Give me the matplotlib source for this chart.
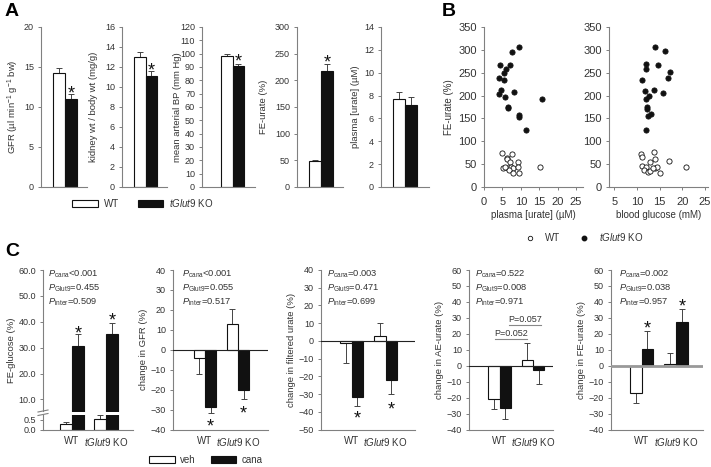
import matplotlib
matplotlib.use('Agg')
import matplotlib.pyplot as plt
from matplotlib.patches import Patch
from matplotlib.lines import Line2D

# ---- panel A: group means / SEM ----
gfr_mean = [14.3, 11.0]
gfr_err = [0.6, 0.6]
kidney_mean = [13.0, 11.1]
kidney_err = [0.5, 0.5]
map_mean = [98.0, 90.5]
map_err = [2.0, 2.0]
feurate_mean = [48.0, 218.0]
feurate_err = [3.0, 12.0]
purate_mean = [7.7, 7.2]
purate_err = [0.65, 0.7]
a_star = [12.3, 12.1, 97.5, 242.0, None]

# ---- panel B: individual mice ----
ko_urate = [9.4, 7.5, 4.4, 7.1, 6.0, 5.5, 4.0, 5.3, 4.7, 4.0, 8.2, 5.7, 15.7, 6.4, 6.4, 9.5, 9.5, 11.3]
ko_fe_u = [306, 296, 266, 267, 258, 250, 239, 234, 212, 204, 207, 197, 192, 175, 172, 158, 154, 125]
wt_urate = [4.8, 7.5, 6.2, 6.2, 7.1, 9.2, 5.1, 6.4, 7.3, 8.0, 9.2, 15.3, 6.9, 7.8, 9.4, 5.8]
wt_fe_u = [75, 73, 64, 61, 55, 55.5, 41.6, 41.6, 43, 41.6, 43, 43, 36.5, 31.4, 31.4, 43]
ko_glucose = [14.1, 16.2, 12.0, 14.7, 12.0, 17.4, 11.1, 16.8, 13.7, 11.7, 15.8, 12.6, 11.9, 12.3, 12.3, 13.1, 12.4, 11.9]
ko_fe_g = [306, 297, 268, 267, 259, 251, 235, 239, 213, 209, 206, 198, 193, 175, 171, 160, 155, 125]
wt_glucose = [11.0, 11.2, 13.75, 14.0, 12.9, 17.1, 11.2, 11.9, 14.1, 14.5, 20.9, 11.5, 12.4, 12.8, 15.1, 13.6]
wt_fe_g = [73, 65, 76, 62, 55, 56.5, 45.5, 43, 42, 43, 43, 37, 33, 36, 31.5, 41]

# ---- panel C: veh / cana ----
c_groups = ['WT', r'$\it{tGlut9}$ KO']
glu_veh = [0.28, 0.55]
glu_veh_err = [0.09, 0.2]
glu_cana = [30.6, 35.2]
glu_cana_err = [4.6, 4.5]
cgfr_veh = [-4.0, 13.0]
cgfr_veh_err = [8.3, 7.3]
cgfr_cana = [-28.7, -20.0]
cgfr_cana_err = [3.2, 4.9]
filt_veh = [-1.0, 2.6]
filt_veh_err = [11.6, 7.4]
filt_cana = [-31.5, -22.0]
filt_cana_err = [5.0, 8.0]
ae_veh = [-21.0, 3.3]
ae_veh_err = [6.2, 10.7]
ae_cana = [-26.5, -2.5]
ae_cana_err = [6.8, 9.0]
fe_veh = [-17.0, 1.0]
fe_veh_err = [6.3, 6.9]
fe_cana = [10.6, 27.7]
fe_cana_err = [11.0, 7.9]
glu_star = [37.3, 42.2]
cgfr_star = [-36.3, -29.5]
filt_star = [-41.0, -35.8]
fe_star = [26.0, 40.2]
p_glu = ['<0.001', '=0.455', '=0.509']
p_gfr = ['<0.001', '=0.055', '=0.517']
p_filt = ['=0.003', '=0.471', '=0.699']
p_ae = ['=0.522', '=0.008', '=0.971']
p_fe = ['=0.002', '=0.038', '=0.957']

TXT = '#333333'
SPINE = '#808080'
DARK = '#111111'
plt.rcParams.update({
    'font.family': ['Liberation Sans', 'DejaVu Sans'],
    'font.size': 6.8,
    'xtick.labelsize': 6.5,
    'ytick.labelsize': 6.5,
    'mathtext.fontset': 'custom',
    'mathtext.rm': 'Liberation Sans',
    'mathtext.it': 'Liberation Sans:italic',
    'mathtext.bf': 'Liberation Sans:bold',
    'text.color': TXT,
    'axes.labelcolor': TXT,
    'xtick.color': SPINE,
    'ytick.color': SPINE,
    'xtick.labelcolor': TXT,
    'ytick.labelcolor': TXT,
    'axes.edgecolor': SPINE,
    'axes.linewidth': 0.8,
})

W, H = 711, 467
fig = plt.figure(figsize=(W / 100, H / 100), dpi=100)


def box(left, top, right, bottom):
    return [left / W, 1 - bottom / H, (right - left) / W, (bottom - top) / H]


def style(ax):
    ax.spines['top'].set_visible(False)
    ax.spines['right'].set_visible(False)
    ax.tick_params(axis='y', direction='out', length=2.5, width=0.7, pad=2.5)


def ylabel_at(ax, text, x_px, left, right, **kw):
    # centre of the rotated label sits at x_px (figure pixels)
    ax.set_ylabel(text, va='center', **kw)
    ax.yaxis.set_label_coords((x_px - left) / (right - left), 0.5)


def err(ax, x, v, e):
    yerr = [[0], [e]] if v >= 0 else [[e], [0]]
    ax.errorbar([x], [v], yerr=yerr, fmt='none', ecolor='#444444',
                elinewidth=0.7, capsize=2.2, capthick=0.7, zorder=1)


def star(ax, x, y):
    ax.annotate('*', (x, y), xytext=(0, -7), textcoords='offset points',
                ha='center', va='baseline', fontsize=13, color=DARK)


# ---------------- A ----------------
a_layout = [(41, 53, 77, 87, 13), (122, 134, 157, 167, 94), (202, 221, 244, 255, 177),
            (297, 309, 333, 343, 263), (381, 393, 417, 429, 355)]
a_data = [
    (gfr_mean, gfr_err, 'GFR (µl min$^{-1}$ g$^{-1}$ bw)', 20, 5),
    (kidney_mean, kidney_err, 'kidney wt / body wt (mg/g)', 16, 2),
    (map_mean, map_err, 'mean arterial BP (mm Hg)', 120, 10),
    (feurate_mean, feurate_err, 'FE-urate (%)', 300, 50),
    (purate_mean, purate_err, 'plasma [urate] (µM)', 14, 2),
]
for (spine, bl, br, end, lab), (mean, e, label, top, step), st in zip(a_layout, a_data, a_star):
    ax = fig.add_axes(box(spine, 27, end, 187))
    style(ax)
    pu = (br - bl) / 2
    ax.set_xlim(-0.5 - (bl - spine) / pu, 1.5 + (end - br) / pu)
    ax.set_ylim(0, top)
    ax.set_yticks(range(0, top + 1, step))
    ax.set_xticks([])
    ax.bar([0, 1], mean, width=1, color=['white', DARK], edgecolor=DARK, linewidth=0.8, zorder=2)
    for i in range(2):
        err(ax, i, mean[i], e[i])
    if st is not None:
        star(ax, 1, st)
    ylabel_at(ax, label, lab, spine, end)

# ---------------- B ----------------
b_layout = [(484, 583, (0, 26.9), range(0, 26, 5), 'plasma [urate] (µM)',
             wt_urate, wt_fe_u, ko_urate, ko_fe_u),
            (609, 708, (3.83, 25.7), range(5, 26, 5), 'blood glucose (mM)',
             wt_glucose, wt_fe_g, ko_glucose, ko_fe_g)]
for k, (left, right, xl, xt, xlab, wx, wy, kx, ky) in enumerate(b_layout):
    ax = fig.add_axes(box(left, 27, right, 187))
    style(ax)
    ax.tick_params(axis='x', direction='out', length=2.5, width=0.7, pad=4.5, labelsize=8)
    ax.tick_params(axis='y', labelsize=8)
    ax.set_xlim(*xl)
    ax.set_ylim(0, 350)
    ax.set_xticks(list(xt))
    ax.set_yticks(range(0, 351, 50))
    ax.scatter(wx, wy, s=14, facecolor='white', edgecolor=DARK, linewidth=0.6, zorder=3, clip_on=False)
    ax.scatter(kx, ky, s=14, facecolor=DARK, edgecolor=DARK, linewidth=0.6, zorder=3, clip_on=False)
    ax.set_xlabel(xlab, labelpad=2, fontsize=7)
    if k == 0:
        ylabel_at(ax, 'FE-urate (%)', 449, left, right, fontsize=7)

# ---------------- C ----------------
BW = 0.34


def c_bars(ax, veh, veh_e, cana, cana_e, err_veh=True, err_cana=True):
    ax.bar([g - BW / 2 for g in (0, 1)], veh, width=BW, color='white', edgecolor=DARK, linewidth=0.8, zorder=2)
    ax.bar([g + BW / 2 for g in (0, 1)], cana, width=BW, color=DARK, edgecolor=DARK, linewidth=0.8, zorder=2)
    for g in (0, 1):
        if err_veh:
            err(ax, g - BW / 2, veh[g], veh_e[g])
        if err_cana:
            err(ax, g + BW / 2, cana[g], cana_e[g])


def p_text(px, pvals):
    for name, val, py in zip(['cana', 'Glut9', 'inter'], pvals, [276, 290, 304]):
        fig.text(px / W, 1 - py / H, r'$\mathit{P}_{\mathrm{%s}}$%s' % (name, val),
                 fontsize=6.7, va='baseline', ha='left')


def c_xaxis(ax):
    ax.set_xticks([0, 1])
    ax.set_xticklabels(c_groups, fontsize=7)
    ax.tick_params(axis='x', length=0, pad=5)


# C1 with broken axis
spine, wt, ko, end = 43, 72, 106, 133
pu = ko - wt
xl = (-(wt - spine) / pu, (end - wt) / pu)
ax_t = fig.add_axes(box(spine, 270, end, 411.5))
ax_b = fig.add_axes(box(spine, 414.5, end, 429.5))
for ax in (ax_t, ax_b):
    style(ax)
    ax.set_xlim(*xl)
ax_t.spines['bottom'].set_visible(False)
ax_t.set_xticks([])
ax_t.set_ylim(5.35, 60)
ax_t.set_yticks(range(10, 61, 10))
ax_t.set_yticklabels(['%.1f' % v for v in range(10, 61, 10)])
ax_b.set_ylim(0, 0.78)
ax_b.set_yticks([0, 0.5])
ax_b.set_yticklabels(['0.0', '0.5'])
c_bars(ax_t, glu_veh, glu_veh_err, glu_cana, glu_cana_err, err_veh=False)
c_bars(ax_b, glu_veh, glu_veh_err, glu_cana, glu_cana_err, err_cana=False)
for g in (0, 1):
    star(ax_t, g + BW / 2, glu_star[g])
c_xaxis(ax_b)
fig.text(12 / W, 1 - 350 / H, 'FE-glucose (%)', rotation=90, ha='center', va='center')
for y0 in (411, 414.5):
    fig.add_artist(Line2D([38 / W, 48 / W], [1 - (y0 + 1) / H, 1 - (y0 - 1) / H], color=SPINE, lw=0.8))
p_text(48, p_glu)

c_layout = [
    (173, 205, 238, 268, 143, (-40, 40), cgfr_veh, cgfr_veh_err, cgfr_cana, cgfr_cana_err,
     cgfr_star, 'change in GFR (%)', 182, p_gfr),
    (321, 351.5, 385.5, 415, 292, (-50, 40), filt_veh, filt_veh_err, filt_cana, filt_cana_err,
     filt_star, 'change in filtered urate (%)', 327, p_filt),
    (469, 499.5, 533, 553, 440, (-40, 60), ae_veh, ae_veh_err, ae_cana, ae_cana_err,
     None, 'change in AE-urate (%)', 475, p_ae),
    (611, 641.5, 676, 703, 582, (-40, 60), fe_veh, fe_veh_err, fe_cana, fe_cana_err,
     fe_star, 'change in FE-urate (%)', 619, p_fe),
]
for i, (spine, wt, ko, end, lab, yl, veh, veh_e, cana, cana_e, stars, ylab, ptx, pv) in enumerate(c_layout):
    ax = fig.add_axes(box(spine, 270, end, 429.5))
    style(ax)
    pu = ko - wt
    ax.set_xlim(-(wt - spine) / pu, (end - wt) / pu)
    ax.set_ylim(*yl)
    ax.set_yticks(range(yl[0], yl[1] + 1, 10))
    if i == 3:
        ax.axhline(0, color='#999999', lw=2, zorder=3)
    else:
        ax.axhline(0, color='#222222', lw=0.8, zorder=3)
    c_bars(ax, veh, veh_e, cana, cana_e)
    if stars is not None:
        for g in (0, 1):
            star(ax, g + BW / 2, stars[g])
    c_xaxis(ax)
    ylabel_at(ax, ylab, lab, spine, end)
    p_text(ptx, pv)
    if i == 2:
        for x0, x1, y in [(-0.14, 0.81, 16.7), (0.29, 1.23, 25.4)]:
            ax.plot([x0, x1], [y, y], color='#888888', lw=0.8)
        ax.text(0.34, 17.5, 'P=0.052', ha='center', va='bottom', fontsize=6.5)
        ax.text(0.76, 26.2, 'P=0.057', ha='center', va='bottom', fontsize=6.5)

# ---------------- legends and panel letters ----------------
fig.legend(handles=[Patch(facecolor='white', edgecolor=DARK, lw=0.8, label='WT'),
                    Patch(facecolor=DARK, edgecolor=DARK, lw=0.8, label=r'$\it{tGlut9}$ KO')],
           loc='center', bbox_to_anchor=(143 / W, 1 - 203 / H), ncol=2, frameon=False,
           handlelength=2.6, handleheight=0.6, columnspacing=2.0, handletextpad=0.6, fontsize=7)
fig.legend(handles=[Line2D([], [], marker='o', ls='none', ms=3.2, mfc='white', mec=DARK, mew=0.6, label='WT'),
                    Line2D([], [], marker='o', ls='none', ms=3.2, mfc=DARK, mec=DARK, label=r'$\it{tGlut9}$ KO')],
           loc='center', bbox_to_anchor=(584 / W, 1 - 237 / H), ncol=2, frameon=False,
           handlelength=1.0, columnspacing=2.0, handletextpad=1.0, fontsize=7)
fig.legend(handles=[Patch(facecolor='white', edgecolor=DARK, lw=0.8, label='veh'),
                    Patch(facecolor=DARK, edgecolor=DARK, lw=0.8, label='cana')],
           loc='center', bbox_to_anchor=(206 / W, 1 - 460 / H), ncol=2, frameon=False,
           handlelength=2.6, handleheight=0.6, columnspacing=1.5, handletextpad=0.6, fontsize=7)

for letter, x, y in [('A', 5, 12), ('B', 442, 12), ('C', 5, 252)]:
    fig.text(x / W, 1 - y / H, letter, fontsize=14, fontweight='bold', va='center', ha='left', color='black')

fig.savefig('out.png', dpi=100)
